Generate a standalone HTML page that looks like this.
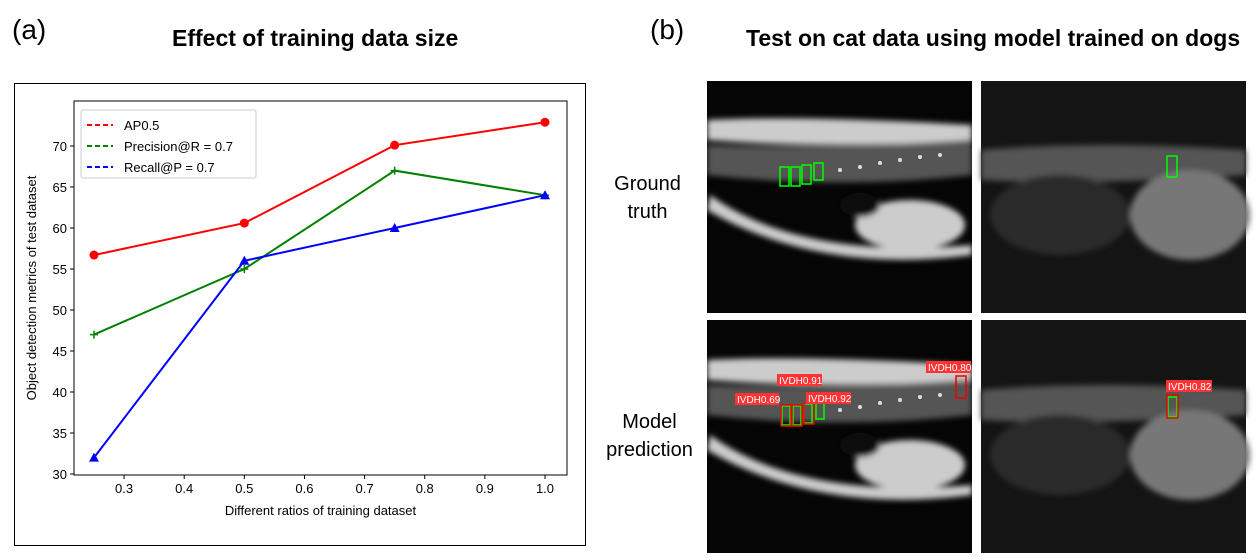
<!DOCTYPE html>
<html><head><meta charset="utf-8"><style>
body{margin:0;width:1257px;height:560px;background:#fff;position:relative;overflow:hidden;font-family:"Liberation Sans",sans-serif}
.abs{position:absolute}
</style></head><body>
<div class="abs" style="left:12px;top:14px;font-size:28px">(a)</div>
<div class="abs" style="left:172px;top:25px;font-size:23px;font-weight:bold">Effect of training data size</div>
<div class="abs" style="left:650px;top:14px;font-size:28px">(b)</div>
<div class="abs" style="left:746px;top:25px;font-size:23px;font-weight:bold">Test on cat data using model trained on dogs</div>
<div class="abs" style="left:14px;top:83px;width:570px;height:461px;border:1px solid #000"></div>
<svg class="abs" style="left:0;top:0" width="600" height="560">
<g id="g"></g></svg>
<div class="abs" style="left:600px;top:170px;width:95px;text-align:center;font-size:20px;line-height:28px">Ground<br>truth</div>
<div class="abs" style="left:592px;top:408px;width:115px;text-align:center;font-size:20px;line-height:28px">Model<br>prediction</div>
<svg class="abs" style="left:0;top:0" width="1257" height="560">
<defs><filter id="bl"><feGaussianBlur stdDeviation="3"/></filter><clipPath id="c1"><rect x="707" y="81" width="265" height="232"/></clipPath><clipPath id="c3"><rect x="707" y="320" width="265" height="233"/></clipPath></defs>
<g><rect x="707" y="81" width="265" height="232" fill="#050505"/>
<g clip-path="url(#c1)" filter="url(#bl)"><path d="M707,120 Q800,115 972,125 L972,140 Q840,150 707,140Z" fill="#ccc"/><path d="M707,145 Q840,150 972,140 L972,175 Q840,190 707,175Z" fill="#555"/><path d="M710,195 Q800,260 972,245 L972,255 Q820,275 707,210Z" fill="#ccc"/><ellipse cx="910" cy="225" rx="55" ry="25" fill="#ccc"/><ellipse cx="860" cy="205" rx="20" ry="12" fill="#111"/></g></g>
<g><rect x="981" y="81" width="265" height="232" fill="#141414"/>
<g filter="url(#bl)"><path d="M981,150 Q1100,140 1246,150 L1246,175 Q1100,185 981,180Z" fill="#555"/><ellipse cx="1190" cy="215" rx="60" ry="45" fill="#777"/><ellipse cx="1060" cy="215" rx="70" ry="40" fill="#2a2a2a"/></g></g>
<g><rect x="707" y="320" width="265" height="233" fill="#050505"/>
<g clip-path="url(#c3)" filter="url(#bl)"><path d="M707,360 Q800,355 972,365 L972,380 Q840,390 707,380Z" fill="#ccc"/><path d="M707,385 Q840,390 972,380 L972,415 Q840,430 707,415Z" fill="#555"/><path d="M710,435 Q800,500 972,485 L972,495 Q820,515 707,450Z" fill="#ccc"/><ellipse cx="910" cy="465" rx="55" ry="25" fill="#ccc"/><ellipse cx="860" cy="445" rx="20" ry="12" fill="#111"/></g></g>
<g><rect x="981" y="320" width="265" height="233" fill="#141414"/>
<g filter="url(#bl)"><path d="M981,390 Q1100,380 1246,390 L1246,415 Q1100,425 981,420Z" fill="#555"/><ellipse cx="1190" cy="455" rx="60" ry="45" fill="#777"/><ellipse cx="1060" cy="455" rx="70" ry="40" fill="#2a2a2a"/></g></g>
<g fill="#ddd">
<circle cx="840" cy="170" r="2"/><circle cx="860" cy="167" r="2"/><circle cx="880" cy="163" r="2"/><circle cx="900" cy="160" r="2"/><circle cx="920" cy="157" r="2"/><circle cx="940" cy="155" r="2"/>
<circle cx="840" cy="410" r="2"/><circle cx="860" cy="407" r="2"/><circle cx="880" cy="403" r="2"/><circle cx="900" cy="400" r="2"/><circle cx="920" cy="397" r="2"/><circle cx="940" cy="395" r="2"/></g>
<g fill="none" stroke="#0f0" stroke-width="1.5">
<rect x="780" y="167" width="9" height="19"/><rect x="791" y="167" width="9" height="19"/><rect x="802" y="165" width="9" height="19"/><rect x="814" y="163" width="9" height="17"/><rect x="1167" y="156" width="10" height="21"/>
<rect x="782" y="406" width="8" height="19"/><rect x="793" y="406" width="8" height="19"/><rect x="804" y="404" width="8" height="19"/><rect x="816" y="403" width="8" height="16"/><rect x="1168" y="397" width="9" height="20"/></g>
<g fill="none" stroke="#e00" stroke-width="1.5">
<rect x="781" y="405" width="10" height="21"/><rect x="792" y="405" width="10" height="21"/><rect x="804" y="403" width="10" height="21"/><rect x="956" y="376" width="10" height="22"/><rect x="1167" y="395" width="11" height="23"/></g>
<g font-size="10" fill="#fff">
<rect x="735" y="393" width="44" height="12" fill="#f33"/><text x="737" y="403">IVDH0.69</text>
<rect x="777" y="374" width="45" height="12" fill="#f33"/><text x="779" y="384">IVDH0.91</text>
<rect x="806" y="392" width="45" height="12" fill="#f33"/><text x="808" y="402">IVDH0.92</text>
<rect x="926" y="361" width="45" height="12" fill="#f33"/><text x="928" y="371">IVDH0.80</text>
<rect x="1166" y="380" width="46" height="12" fill="#f33"/><text x="1168" y="390">IVDH0.82</text></g>
</svg>
<script>
const categories=[0.25,0.5,0.75,1.0];
const apValues=[56.7,60.6,70.1,72.9];
const precisionValues=[47,55,67,64];
const recallValues=[32,56,60,64];
const xTicks=[0.3,0.4,0.5,0.6,0.7,0.8,0.9,1.0];
const yTicks=[30,35,40,45,50,55,60,65,70];
const L=74,R=567,T=101,B=475;
const X=v=>94+(v-0.25)*(545-94)/0.75;
const Y=v=>474-(v-30)*8.2;
const NS='http://www.w3.org/2000/svg',g=document.getElementById('g');
function mk(t,a){const e=document.createElementNS(NS,t);for(const k in a)e.setAttribute(k,a[k]);g.appendChild(e);return e;}
let e=mk('rect',{x:L,y:T,width:R-L,height:B-T,fill:'none',stroke:'#000','stroke-width':1});


xTicks.forEach(v=>{mk('line',{x1:X(v),x2:X(v),y1:B,y2:B+4,stroke:'#000'});
const t=mk('text',{x:X(v),y:B+18,'text-anchor':'middle','font-size':13});t.textContent=v.toFixed(1);

});
yTicks.forEach(v=>{mk('line',{x1:L-4,x2:L,y1:Y(v),y2:Y(v),stroke:'#000'});
const t=mk('text',{x:L-7,y:Y(v)+5,'text-anchor':'end','font-size':13});t.textContent=v;

});
let t=mk('text',{x:(L+R)/2,y:B+40,'text-anchor':'middle','font-size':13});t.textContent='Different ratios of training dataset';


t=mk('text',{x:36,y:(T+B)/2,'text-anchor':'middle','font-size':13,transform:`rotate(-90 36 ${(T+B)/2})`});t.textContent='Object detection metrics of test dataset';


function series(vals,col,mark,name){
const p=mk('polyline',{points:vals.map((v,i)=>X(categories[i])+','+Y(v)).join(' '),fill:'none',stroke:col,'stroke-width':2});


vals.forEach((v,i)=>{const x=X(categories[i]),y=Y(v);let m;
if(mark==='o')m=mk('circle',{cx:x,cy:y,r:4.5,fill:col});
else if(mark==='^')m=mk('polygon',{points:`${x},${y-5} ${x-5},${y+4} ${x+5},${y+4}`,fill:col});
else m=mk('path',{d:`M${x-4},${y}h8M${x},${y-4}v8`,stroke:col,'stroke-width':1.5});

});}
series(apValues,'#f00','o','ap');
series(precisionValues,'#008000','+','precision');
series(recallValues,'#00f','^','recall');
e=mk('rect',{x:81,y:110,width:175,height:68,fill:'#fff',stroke:'#ccc',rx:2});


[['AP0.5','#f00'],['Precision@R = 0.7','#008000'],['Recall@P = 0.7','#00f']].forEach((d,i)=>{const y=125+i*21;
mk('line',{x1:87,x2:113,y1:y,y2:y,stroke:d[1],'stroke-width':2,'stroke-dasharray':'5,3'});
const tx=mk('text',{x:124,y:y+5,'font-size':13});tx.textContent=d[0];

});
</script>
</body></html>
